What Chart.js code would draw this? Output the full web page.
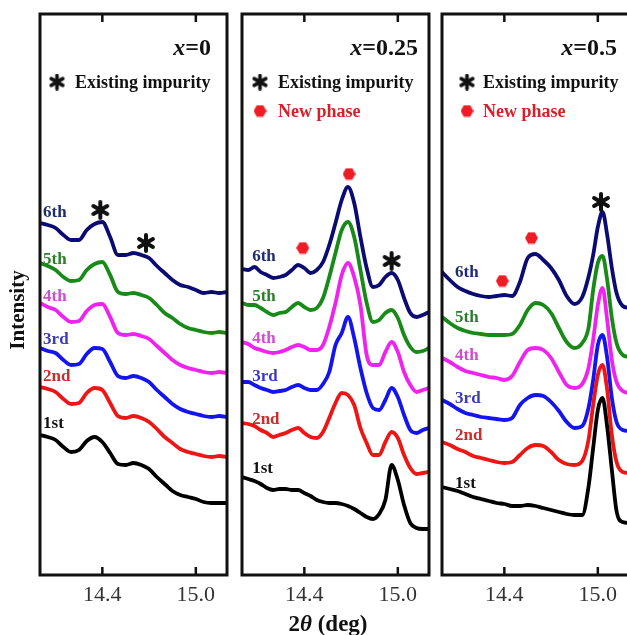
<!DOCTYPE html>
<html>
<head>
<meta charset="utf-8">
<script src="https://cdn.jsdelivr.net/npm/chart.js@4.4.0/dist/chart.umd.min.js"></script>
<style>
  html, body { margin: 0; padding: 0; background: #fff; overflow: hidden; width: 627px; height: 635px; }
  canvas { position: absolute; top: 0; }
</style>
</head>
<body>
<canvas id="panel0" width="235" height="635" style="left:0px"></canvas>
<canvas id="panel1" width="203" height="635" style="left:234px"></canvas>
<canvas id="panel2" width="203" height="635" style="left:434px"></canvas>
<script>
// ---- tick labels / names
const thetaTicks = [14.4, 15.0];
const runNames = ['1st', '2nd', '3rd', '4th', '5th', '6th'];
const panelX = ['0', '0.25', '0.5'];

// ---- x = 0  (2theta values and intensities, arbitrary units, offset traces)
const theta0 = [14.00, 14.05, 14.10, 14.15, 14.20, 14.25, 14.30, 14.35, 14.40, 14.45, 14.50, 14.55, 14.60,
                14.65, 14.70, 14.75, 14.80, 14.85, 14.90, 14.95, 15.00, 15.05, 15.10, 15.15, 15.20];
const p0_1st = [140,138,135,128,123,125,134,138,133,122,111,110,112,110,106,98,91,84,80,78,76,73,72,72,72];
const p0_2nd = [188,186,183,176,171,172,182,187,185,172,159,157,159,157,153,146,138,132,126,123,121,119,118,119,118];
const p0_3rd = [227,224,222,215,210,211,221,227,226,213,199,197,199,197,193,185,178,171,166,163,161,159,158,159,158];
const p0_4th = [272,268,265,258,253,254,264,270,271,258,242,240,241,239,236,229,222,215,210,207,205,203,202,203,202];
const p0_5th = [312,309,305,298,294,295,305,311,313,300,283,281,282,280,277,270,262,257,251,247,245,243,242,243,242];
const p0_6th = [352,350,347,340,335,335,345,351,353,338,320,320,322,320,317,309,302,295,290,288,285,282,283,282,283];

// ---- x = 0.25
const theta1 = [14.00, 14.04, 14.08, 14.12, 14.16, 14.20, 14.24, 14.28, 14.32, 14.36, 14.40, 14.44, 14.48, 14.52,
                14.56, 14.60, 14.64, 14.68, 14.72, 14.76, 14.80, 14.84, 14.88, 14.92, 14.96, 15.00, 15.04, 15.08,
                15.12, 15.16, 15.20];
const p1_1st = [98,96,94,91,87,85,86,86,85,85,82,79,75,73,72,72,71,69,66,62,58,56,61,75,110,95,70,52,47,46,46];
const p1_2nd = [152,151,149,145,142,138,140,142,145,147,142,138,137,143,157,172,182,180,170,147,132,120,120,133,143,137,120,107,101,102,103];
const p1_3rd = [193,193,190,187,185,183,184,185,188,190,187,185,185,191,203,230,242,258,237,207,182,167,165,175,187,178,160,145,142,145,147];
const p1_4th = [233,231,227,225,223,222,223,225,228,230,228,225,225,230,248,272,300,312,298,270,220,210,210,223,233,223,203,190,183,185,187];
const p1_5th = [272,270,270,267,263,260,262,263,268,272,268,265,267,277,298,322,345,353,338,305,272,253,255,262,265,257,240,228,223,224,227];
const p1_6th = [306,305,308,303,300,297,298,300,305,310,307,302,305,313,330,352,375,388,372,338,307,288,290,298,302,295,277,262,258,260,263];

// ---- x = 0.5
const theta2 = [14.00, 14.05, 14.10, 14.15, 14.20, 14.25, 14.30, 14.35, 14.40, 14.45, 14.50, 14.55, 14.60, 14.65,
                14.70, 14.75, 14.80, 14.85, 14.90, 14.94, 14.97, 15.00, 15.03, 15.06, 15.09, 15.12, 15.16, 15.20];
const p2_1st = [88,86,84,81,78,76,74,72,71,69,69,70,69,67,65,63,61,60,60,88,127,165,177,148,105,64,53,52];
const p2_2nd = [133,130,126,123,119,117,115,113,112,113,120,127,130,129,123,115,111,110,114,135,170,200,210,185,140,113,103,102];
const p2_3rd = [175,171,166,162,160,158,157,156,155,157,170,177,180,179,173,164,153,147,149,167,195,230,240,217,177,153,145,144];
const p2_4th = [217,213,208,204,202,200,198,197,195,199,213,225,227,225,217,203,190,187,191,207,235,270,287,255,215,193,184,182];
const p2_5th = [258,252,247,244,242,241,240,240,240,241,250,265,272,270,262,247,233,227,232,247,285,312,319,295,257,232,220,218];
const p2_6th = [303,295,288,284,281,279,278,279,280,279,293,317,321,315,307,295,279,271,278,298,320,348,363,340,307,282,269,267];

// ---- peak markers (2theta, intensity)
const imp0X = [14.387, 14.68],  imp0Y = [365, 332];
const new1X = [14.39, 14.687],  new1Y = [327, 401];
const imp1X = [14.96],          imp1Y = [314];
const imp2X = [15.02],          imp2Y = [373];
const new2X = [14.387, 14.574], new2Y = [294, 337];

// ---- styles
const runColors = ['#000000', '#ee1515', '#1414ee', '#f022f0', '#178a17', '#0b0b74'];
const labelColors = ['#111111', '#cc2c2c', '#3c3cb8', '#d04cd0', '#2b7f2b', '#1f2d6b'];
const serif = 'Liberation Serif';

function makeStar(size, lw) {
  const c = document.createElement('canvas');
  c.width = c.height = size;
  const g = c.getContext('2d');
  g.strokeStyle = '#111';
  g.lineWidth = lw;
  g.lineCap = 'round';
  const r = size / 2 - lw / 2;
  g.translate(size / 2, size / 2);
  for (let k = 0; k < 3; k++) {
    const t = Math.PI / 2 + k * Math.PI / 3;
    g.beginPath();
    g.moveTo(Math.cos(t) * r, Math.sin(t) * r);
    g.lineTo(-Math.cos(t) * r, -Math.sin(t) * r);
    g.stroke();
  }
  // small fat centre like the printed asterisk
  g.beginPath();
  g.arc(0, 0, lw * 0.8, 0, Math.PI * 2);
  g.fillStyle = '#111';
  g.fill();
  return c;
}

function makeHex(size) {
  const c = document.createElement('canvas');
  c.width = c.height = size;
  const g = c.getContext('2d');
  g.fillStyle = '#ee1c24';
  g.translate(size / 2, size / 2);
  g.beginPath();
  for (let k = 0; k < 6; k++) {
    const t = k * Math.PI / 3;
    g.lineTo(Math.cos(t) * size / 2, Math.sin(t) * size / 2);
  }
  g.closePath();
  g.fill();
  return c;
}

const starImg = makeStar(20, 4);
const legendStar = makeStar(17, 3.6);
const hexImg = makeHex(13);

// draws frame, inward ticks, panel titles, legends and run labels
const decor = {
  id: 'decor',
  afterDatasetsDraw(chart, args, o) {
    const ctx = chart.ctx, a = chart.chartArea;
    const xs = chart.scales.x, ys = chart.scales.y;
    ctx.save();

    ctx.strokeStyle = '#111';
    ctx.lineWidth = 2.5;
    thetaTicks.forEach(v => {
      const px = xs.getPixelForValue(v);
      ctx.beginPath();
      ctx.moveTo(px, a.top); ctx.lineTo(px, a.top + 8);
      ctx.moveTo(px, a.bottom); ctx.lineTo(px, a.bottom - 8);
      ctx.stroke();
    });
    ctx.lineWidth = 3;
    ctx.strokeRect(a.left, a.top, a.width, a.height);

    // x = ...
    ctx.fillStyle = '#111';
    ctx.textBaseline = 'middle';
    ctx.font = 'italic bold 24px ' + serif;
    const wx = ctx.measureText('x').width;
    ctx.font = 'bold 24px ' + serif;
    const rest = '=' + o.xval;
    const wr = ctx.measureText(rest).width;
    const tx = a.right - o.titleInset - wx - wr;
    ctx.font = 'italic bold 24px ' + serif;
    ctx.fillText('x', tx, 49);
    ctx.font = 'bold 24px ' + serif;
    ctx.fillText(rest, tx + wx, 49);

    // legend
    ctx.drawImage(legendStar, a.left + o.legMark - 8.5, 82 - 8.5);
    ctx.font = 'bold 18px ' + serif;
    ctx.fillStyle = '#111';
    ctx.fillText('Existing impurity', a.left + o.legText, 83);
    if (o.newPhase) {
      ctx.drawImage(hexImg, a.left + o.legMark - 6.5, 111 - 6.5);
      ctx.fillStyle = '#d6202c';
      ctx.fillText('New phase', a.left + o.legText, 112);
    }

    // run labels
    ctx.font = 'bold 17px ' + serif;
    runNames.forEach((n, i) => {
      ctx.fillStyle = labelColors[i];
      ctx.fillText(n, xs.getPixelForValue(o.labelX), ys.getPixelForValue(o.labelY[i]));
    });

    if (o.yTitle) {
      ctx.save();
      ctx.translate(19, 310);
      ctx.rotate(-Math.PI / 2);
      ctx.textAlign = 'center';
      ctx.fillStyle = '#111';
      ctx.font = 'bold 21px ' + serif;
      ctx.fillText('Intensity', 0, 0);
      ctx.restore();
    }

    if (o.xTitle) {
      const cx = a.left + 86, cy = 625;
      ctx.fillStyle = '#111';
      ctx.font = 'bold 23px ' + serif;
      const w1 = ctx.measureText('2').width;
      const w3 = ctx.measureText(' (deg)').width;
      ctx.font = 'italic bold 23px ' + serif;
      const w2 = ctx.measureText('\u03b8').width;
      let sx = cx - (w1 + w2 + w3) / 2;
      ctx.font = 'bold 23px ' + serif;
      ctx.fillText('2', sx, cy);
      ctx.font = 'italic bold 23px ' + serif;
      ctx.fillText('\u03b8', sx + w1, cy);
      ctx.font = 'bold 23px ' + serif;
      ctx.fillText(' (deg)', sx + w1 + w2, cy);
    }
    ctx.restore();
  }
};

function makePanel(id, thetas, runs, marks, deco, padLeft) {
  const datasets = runs.map((vals, i) => ({
    data: thetas.map((t, j) => ({ x: t, y: vals[j] })),
    borderColor: runColors[i],
    borderWidth: 3.8,
    pointRadius: 0,
    fill: false,
    cubicInterpolationMode: 'monotone',
    order: i + 1
  }));
  marks.forEach(m => {
    datasets.push({
      data: m.xs.map((t, j) => ({ x: t, y: m.ys[j] })),
      showLine: false,
      pointStyle: m.img,
      pointRadius: 6,
      order: 0
    });
  });

  return new Chart(document.getElementById(id), {
    type: 'line',
    data: { datasets },
    options: {
      responsive: false,
      animation: false,
      events: [],
      layout: { padding: { left: padLeft, right: 8, top: 14, bottom: 0 } },
      scales: {
        x: {
          type: 'linear', min: 14.0, max: 15.2,
          afterBuildTicks: s => { s.ticks = thetaTicks.map(v => ({ value: v })); },
          afterFit: s => { s.height = 60; },
          grid: { display: false, drawTicks: false },
          border: { display: false },
          ticks: {
            padding: 7, color: '#333',
            font: { family: serif, size: 22 },
            callback: v => Number(v).toFixed(1)
          }
        },
        y: { display: false, min: 0, max: 561 }
      },
      plugins: {
        legend: { display: false },
        tooltip: { enabled: false },
        decor: deco
      }
    },
    plugins: [decor]
  });
}

makePanel('panel0', theta0, [p0_1st, p0_2nd, p0_3rd, p0_4th, p0_5th, p0_6th],
  [{ xs: imp0X, ys: imp0Y, img: starImg }],
  { xval: panelX[0], titleInset: 16, legMark: 17, legText: 35, newPhase: false,
    labelX: 14.02, labelY: [151, 198, 235, 278, 315, 362], yTitle: true }, 40);

makePanel('panel1', theta1, [p1_1st, p1_2nd, p1_3rd, p1_4th, p1_5th, p1_6th],
  [{ xs: imp1X, ys: imp1Y, img: starImg }, { xs: new1X, ys: new1Y, img: hexImg }],
  { xval: panelX[1], titleInset: 11, legMark: 18, legText: 36, newPhase: true,
    labelX: 14.065, labelY: [106, 155, 198, 236, 278, 318], xTitle: true }, 8);

makePanel('panel2', theta2, [p2_1st, p2_2nd, p2_3rd, p2_4th, p2_5th, p2_6th],
  [{ xs: imp2X, ys: imp2Y, img: starImg }, { xs: new2X, ys: new2Y, img: hexImg }],
  { xval: panelX[2], titleInset: 12, legMark: 25, legText: 41, newPhase: true,
    labelX: 14.084, labelY: [91, 139, 176, 219, 257, 302] }, 8);
</script>
</body>
</html>
